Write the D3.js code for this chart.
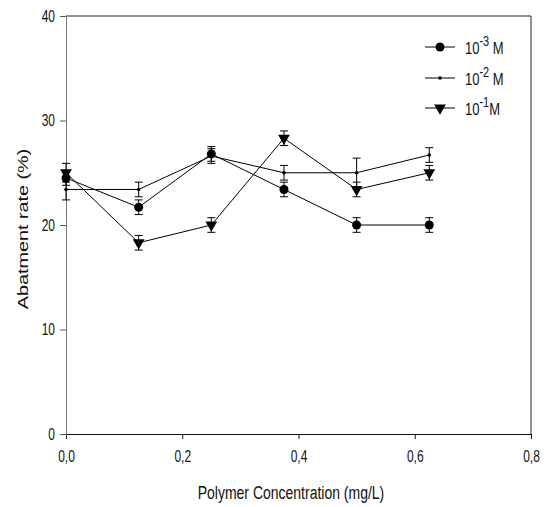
<!DOCTYPE html>
<html>
<head>
<meta charset="utf-8">
<script src="https://cdn.jsdelivr.net/npm/d3@7"></script>
<style>
  body { margin: 0; background: #fff; }
  svg { display: block; font-family: "Liberation Sans", Arial, sans-serif; }
</style>
</head>
<body>
<svg id="chart" width="545" height="507"></svg>
<script>
// concentrations (mg/L)
const conc = [0, 0.125, 0.25, 0.375, 0.5, 0.625];

const s3 = [24.5, 21.7, 26.8, 23.4, 20.0, 20.0];
const s3Err = [0.7, 0.7, 0.7, 0.7, 0.7, 0.7];

const s2 = [23.4, 23.4, 26.6, 25.0, 25.0, 26.7];
const s2Err = [1.0, 0.7, 0.7, 0.7, 1.4, 0.7];

const s1 = [25.0, 18.3, 20.0, 28.3, 23.4, 25.0];
const s1Err = [0.9, 0.7, 0.7, 0.7, 0.7, 0.7];

const xTicks = [0, 0.2, 0.4, 0.6, 0.8];
const yTicks = [0, 10, 20, 30, 40];

const series = [
  { exp: '-3', vals: s3, err: s3Err, marker: 'circle', gap: ' ' },
  { exp: '-2', vals: s2, err: s2Err, marker: 'dot', gap: ' ' },
  { exp: '-1', vals: s1, err: s1Err, marker: 'tri', gap: '' }
];

const svg = d3.select('#chart');
const m = { left: 66, right: 531, top: 16, bottom: 434 };
const K = 1.32; // the text in the original is stretched vertically

const x = d3.scaleLinear().domain([0, 0.8]).range([m.left, m.right]);
const y = d3.scaleLinear().domain([0, 40]).range([m.bottom, m.top]);

// stretch a text vertically around a centre line
function vStretch(sel, cy) {
  sel.attr('transform', `translate(0,${cy}) scale(1,${K}) translate(0,${-cy})`);
}

// frame (top + right)
svg.append('path')
  .attr('d', `M${m.left},${m.top}H${m.right}V${m.bottom}`)
  .attr('fill', 'none').attr('stroke', '#222').attr('stroke-width', 1);

// axes
const fmt = d3.format('.1f');
const xAxis = svg.append('g').attr('transform', `translate(0,${m.bottom})`)
  .call(d3.axisBottom(x).tickValues(xTicks).tickSize(5).tickPadding(13)
    .tickFormat(d => fmt(d).replace('.', ',')));
xAxis.select('.domain').attr('stroke', '#111');
xAxis.selectAll('.tick line').attr('stroke', '#111');
xAxis.selectAll('text').attr('font-size', 12).attr('fill', '#111')
  .attr('font-family', '"Liberation Sans", Arial, sans-serif')
  .call(vStretch, 22);

const yAxis = svg.append('g').attr('transform', `translate(${m.left},0)`)
  .call(d3.axisLeft(y).tickValues(yTicks).tickSize(6).tickPadding(5));
yAxis.select('.domain').attr('stroke', '#777');
yAxis.selectAll('.tick line').attr('stroke', '#555');
yAxis.selectAll('text').attr('font-size', 12).attr('fill', '#111')
  .attr('font-family', '"Liberation Sans", Arial, sans-serif')
  .call(vStretch, 0);

// axis titles
svg.append('text')
  .attr('x', 291).attr('y', 497)
  .attr('text-anchor', 'middle').attr('font-size', 14).attr('fill', '#111')
  .text('Polymer Concentration (mg/L)')
  .call(vStretch, 492);

svg.append('text')
  .attr('transform', `translate(28,229) rotate(-90) scale(${K},1)`)
  .attr('text-anchor', 'middle').attr('font-size', 15).attr('fill', '#111')
  .text('Abatment rate (%)');

function drawMarker(g, type, cx, cy) {
  if (type === 'circle') {
    g.append('circle').attr('cx', cx).attr('cy', cy).attr('r', 4.5).attr('fill', '#000');
  } else if (type === 'dot') {
    g.append('circle').attr('cx', cx).attr('cy', cy).attr('r', 1.8).attr('fill', '#000');
  } else {
    g.append('path')
      .attr('d', d3.symbol(d3.symbolTriangle, 60)())
      .attr('transform', `translate(${cx},${cy}) rotate(180)`)
      .attr('fill', '#000');
  }
}

const line = d3.line().x((d, i) => x(conc[i])).y(d => y(d));

series.forEach(s => {
  const g = svg.append('g');
  g.append('path').datum(s.vals).attr('d', line)
    .attr('fill', 'none').attr('stroke', '#000').attr('stroke-width', 1);

  s.vals.forEach((v, i) => {
    const cx = x(conc[i]);
    const lo = y(v - s.err[i]), hi = y(v + s.err[i]);
    g.append('line').attr('x1', cx).attr('x2', cx).attr('y1', lo).attr('y2', hi)
      .attr('stroke', '#000');
    [lo, hi].forEach(yy => g.append('line')
      .attr('x1', cx - 4).attr('x2', cx + 4).attr('y1', yy).attr('y2', yy)
      .attr('stroke', '#000'));
    drawMarker(g, s.marker, cx, y(v));
  });
});

// legend
const legY = [47, 78, 108];
series.forEach((s, i) => {
  const g = svg.append('g').attr('transform', `translate(425,${legY[i]})`);
  g.append('line').attr('x1', 0).attr('x2', 30).attr('y1', 0).attr('y2', 0).attr('stroke', '#000');
  drawMarker(g, s.marker, 15, 0);
  const t = g.append('text').attr('x', 40).attr('y', 6).attr('font-size', 13).attr('fill', '#111');
  t.append('tspan').text('10');
  t.append('tspan').attr('dy', -6).attr('font-size', 11).text(s.exp);
  t.append('tspan').attr('dy', 6).text(s.gap + 'M');
  t.call(vStretch, 2);
});
</script>
</body>
</html>
